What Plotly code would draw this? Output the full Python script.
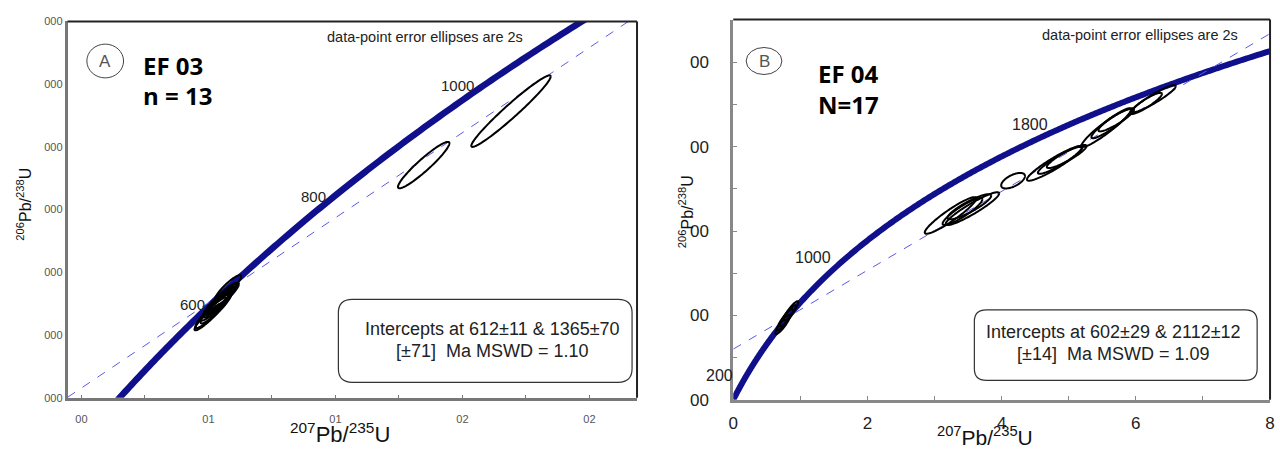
import numpy as np
import plotly.graph_objects as go

W, H = 1280, 457

# ---------------- data ----------------
LAMBDA_238 = 1.55125e-10
LAMBDA_235 = 9.8485e-10

# Panel A (EF 03) error ellipses: centre 207Pb/235U, 206Pb/238U, 2s half-extents, rho
A_ELL_X = [0.784, 0.793, 0.803, 0.809, 0.815, 0.821, 0.828, 0.834, 0.799, 0.824, 0.846, 1.462, 1.737]
A_ELL_Y = [0.0922, 0.0935, 0.0947, 0.0956, 0.0966, 0.0975, 0.0984, 0.0990, 0.0941, 0.0978, 0.1015, 0.1406, 0.1578]
A_ELL_SX = [0.044, 0.050, 0.044, 0.050, 0.047, 0.047, 0.044, 0.041, 0.056, 0.056, 0.041, 0.081, 0.125]
A_ELL_SY = [0.0043, 0.0049, 0.0046, 0.0046, 0.0046, 0.0043, 0.0043, 0.0040, 0.0055, 0.0052, 0.0040, 0.0074, 0.0114]
A_ELL_RHO = [0.93, 0.93, 0.92, 0.93, 0.93, 0.92, 0.93, 0.92, 0.93, 0.93, 0.9, 0.94, 0.97]

# Panel B (EF 04) error ellipses
B_ELL_X = [0.769, 0.739, 0.813, 0.858, 3.238, 3.564, 3.416, 3.519, 4.170, 4.791, 4.865, 4.969, 5.560, 5.634, 5.708, 6.270, 6.152]
B_ELL_Y = [0.0950, 0.0893, 0.0996, 0.1053, 0.2186, 0.2266, 0.2232, 0.2289, 0.2598, 0.2804, 0.2839, 0.2885, 0.3228, 0.3274, 0.3320, 0.3571, 0.3514]
B_ELL_SX = [0.118, 0.110, 0.118, 0.110, 0.384, 0.399, 0.296, 0.325, 0.177, 0.414, 0.325, 0.296, 0.370, 0.296, 0.266, 0.325, 0.237]
B_ELL_SY = [0.0126, 0.0115, 0.0126, 0.0115, 0.0217, 0.0195, 0.0160, 0.0149, 0.0092, 0.0206, 0.0160, 0.0137, 0.0229, 0.0172, 0.0137, 0.0160, 0.0126]
B_ELL_RHO = [0.9, 0.9, 0.9, 0.9, 0.93, 0.93, 0.9, 0.88, 0.6, 0.93, 0.92, 0.9, 0.94, 0.92, 0.9, 0.93, 0.9]

A_INTERCEPTS = [612, 1365]   # Ma
B_INTERCEPTS = [602, 2112]   # Ma
A_AGE_LABELS = [600, 800, 1000]
B_AGE_LABELS = [200, 1000, 1800]

A_XTICK_VALS = [0.384, 0.784, 1.184, 1.584, 1.984]
A_XTICK_TEXT = ["00", "01", "01", "02", "02"]
A_XMINOR_VALS = [0.584, 0.984, 1.384, 1.784]
A_YTICK_VALS = [0.0664, 0.0864, 0.1064, 0.1264, 0.1464, 0.1664, 0.1864]
A_YTICK_TEXT = ["000", "000", "000", "000", "000", "000", "000"]
B_XTICK_VALS = [0, 2, 4, 6, 8]
B_XTICK_TEXT = ["0", "2", "4", "6", "8"]
B_XMINOR_VALS = [1, 3, 5, 7]
B_YTICK_VALS = [0, 0.1, 0.2, 0.3, 0.4]
B_YTICK_TEXT = ["00", "00", "00", "00", "00"]
B_YMINOR_VALS = [0.05, 0.15, 0.25, 0.35]

A_XRANGE = [0.340, 2.134]
A_YRANGE = [0.0664, 0.1864]
B_XRANGE = [0, 8]
B_YRANGE = [0, 0.451]

A_TITLE = ["EF 03", "n = 13"]
B_TITLE = ["EF 04", "N=17"]
A_BOX = ["Intercepts at 612±11 & 1365±70", "[±71]  Ma MSWD = 1.10"]
B_BOX = ["Intercepts at 602±29 & 2112±12", "[±14]  Ma MSWD = 1.09"]
NOTE = "data-point error ellipses are 2s"

# ---------------- helpers ----------------
def px(x):
    return x / W

def py(y):
    return 1 - y / H

def concordia(age_ma):
    t = np.asarray(age_ma, dtype=float) * 1e6
    return np.exp(LAMBDA_235 * t) - 1, np.exp(LAMBDA_238 * t) - 1

def ellipses(cx, cy, sx, sy, rho):
    xs, ys = [], []
    t = np.linspace(0, 2 * np.pi, 120)
    for x0, y0, a, b, r in zip(cx, cy, sx, sy, rho):
        xs += list(x0 + a * np.cos(t)) + [None]
        ys += list(y0 + b * (r * np.cos(t) + np.sqrt(1 - r * r) * np.sin(t))) + [None]
    return xs, ys

def discordia(intercepts, xrange_):
    (x1, x2), (y1, y2) = concordia(intercepts)
    slope = (y2 - y1) / (x2 - x1)
    xs = np.array([xrange_[0], xrange_[1]])
    return xs, y1 + slope * (xs - x1)

def rounded_box(x0, y0, x1, y1, r):
    pts = [("M", x0 + r, y0), ("L", x1 - r, y0), ("Q", x1, y0, x1, y0 + r),
           ("L", x1, y1 - r), ("Q", x1, y1, x1 - r, y1), ("L", x0 + r, y1),
           ("Q", x0, y1, x0, y1 - r), ("L", x0, y0 + r), ("Q", x0, y0, x0 + r, y0)]
    s = ""
    for p in pts:
        cmd, vals = p[0], p[1:]
        coords = []
        for i in range(0, len(vals), 2):
            coords.append(f"{px(vals[i]):.5f},{py(vals[i + 1]):.5f}")
        s += cmd + " " + " ".join(coords) + " "
    return s + "Z"

NAVY = "#10108c"
DASH = "#5a5ae6"
AX_FONT = "Liberation Sans, Arial"

fig = go.Figure()

ages = np.arange(0, 4600, 5)
cx, cy = concordia(ages)

# ---------------- Panel A ----------------
fig.add_trace(go.Scatter(x=cx, y=cy, mode="lines", line=dict(color=NAVY, width=6.5, simplify=False),
                         xaxis="x", yaxis="y", hoverinfo="skip"))
dx, dy = discordia(A_INTERCEPTS, A_XRANGE)
fig.add_trace(go.Scatter(x=dx, y=dy, mode="lines", line=dict(color=DASH, width=1, dash="dash"),
                         xaxis="x", yaxis="y", hoverinfo="skip"))
ex, ey = ellipses(A_ELL_X, A_ELL_Y, A_ELL_SX, A_ELL_SY, A_ELL_RHO)
fig.add_trace(go.Scatter(x=ex, y=ey, mode="lines", line=dict(color="black", width=2, simplify=False),
                         xaxis="x", yaxis="y", hoverinfo="skip"))

# ---------------- Panel B ----------------
fig.add_trace(go.Scatter(x=cx, y=cy, mode="lines", line=dict(color=NAVY, width=6, simplify=False),
                         xaxis="x2", yaxis="y2", hoverinfo="skip"))
dx, dy = discordia(B_INTERCEPTS, B_XRANGE)
fig.add_trace(go.Scatter(x=dx, y=dy, mode="lines", line=dict(color=DASH, width=1, dash="dash"),
                         xaxis="x2", yaxis="y2", hoverinfo="skip"))
ex, ey = ellipses(B_ELL_X, B_ELL_Y, B_ELL_SX, B_ELL_SY, B_ELL_RHO)
fig.add_trace(go.Scatter(x=ex, y=ey, mode="lines", line=dict(color="black", width=2, simplify=False),
                         xaxis="x2", yaxis="y2", hoverinfo="skip"))

annotations = []
shapes = []

# age labels on concordia
for age, xs, ys in zip(A_AGE_LABELS, [-8, -12, -16], [-4, -5, -6]):
    ax_, ay_ = concordia([age])
    annotations.append(dict(x=float(ax_[0]), y=float(ay_[0]), xref="x", yref="y", text=str(age),
                            showarrow=False, xanchor="right", yanchor="middle", xshift=xs, yshift=ys,
                            font=dict(family=AX_FONT, size=15, color="#222")))
for age, xs, ys in zip(B_AGE_LABELS, [-13, -13, -11], [-2, 1, 4]):
    ax_, ay_ = concordia([age])
    annotations.append(dict(x=float(ax_[0]), y=float(ay_[0]), xref="x2", yref="y2", text=str(age),
                            showarrow=False, xanchor="right", yanchor="middle", xshift=xs, yshift=ys,
                            font=dict(family=AX_FONT, size=16, color="#222")))

# panel letters in circles
for (ccx, ccy, rx, ry, letter) in [(101, 57, 18.5, 17.5, "A"), (765, 57, 18, 14, "B")]:
    shapes.append(dict(type="circle", xref="paper", yref="paper",
                       x0=px(ccx - rx), x1=px(ccx + rx), y0=py(ccy + ry), y1=py(ccy - ry),
                       line=dict(color="#444", width=1)))
    annotations.append(dict(x=px(ccx), y=py(ccy), xref="paper", yref="paper", text=letter,
                            showarrow=False, xanchor="center", yanchor="middle",
                            font=dict(family=AX_FONT, size=17, color="#555")))

# sample titles
for (x0, ys, lines) in [(137, [62, 93], A_TITLE), (817, [70, 102], B_TITLE)]:
    for yy, txt in zip(ys, lines):
        annotations.append(dict(x=px(x0), y=py(yy), xref="paper", yref="paper", text=f"<b>{txt}</b>",
                                showarrow=False, xanchor="left", yanchor="middle",
                                font=dict(family="Open Sans", size=24, color="black")))

# notes
for (x0, yy) in [(323, 32), (1043, 30)]:
    annotations.append(dict(x=px(x0), y=py(yy), xref="paper", yref="paper", text=NOTE,
                            showarrow=False, xanchor="left", yanchor="middle",
                            font=dict(family=AX_FONT, size=14.5, color="#222")))

# intercept boxes
for (bx0, by0, bx1, by1, r, tx, t1, t2, lines) in [
        (336, 304, 632, 390, 14, 491, 335, 357, A_BOX),
        (977, 315, 1262, 388, 12, 1117, 338, 361, B_BOX)]:
    shapes.append(dict(type="path", xref="paper", yref="paper", path=rounded_box(bx0, by0, bx1, by1, r),
                       line=dict(color="#333", width=1.2)))
    for yy, txt in zip([t1, t2], lines):
        annotations.append(dict(x=px(tx), y=py(yy), xref="paper", yref="paper", text=txt,
                                showarrow=False, xanchor="center", yanchor="middle",
                                font=dict(family=AX_FONT, size=18, color="#222")))

# axis titles
annotations += [
    dict(x=px(338), y=py(443), xref="paper", yref="paper", text="<sup>207</sup>Pb/<sup>235</sup>U",
         showarrow=False, xanchor="center", yanchor="middle", font=dict(family=AX_FONT, size=22, color="#111")),
    dict(x=px(988), y=py(446), xref="paper", yref="paper", text="<sup>207</sup>Pb/<sup>235</sup>U",
         showarrow=False, xanchor="center", yanchor="middle", font=dict(family=AX_FONT, size=21, color="#111")),
    dict(x=px(19), y=py(205), xref="paper", yref="paper", text="<sup>206</sup>Pb/<sup>238</sup>U",
         showarrow=False, xanchor="center", yanchor="middle", textangle=-90,
         font=dict(family=AX_FONT, size=16, color="#111")),
    dict(x=px(686), y=py(213), xref="paper", yref="paper", text="<sup>206</sup>Pb/<sup>238</sup>U",
         showarrow=False, xanchor="center", yanchor="middle", textangle=-90,
         font=dict(family=AX_FONT, size=16, color="#111")),
]

# top / right frame lines
for (x0, y0, x1, y1) in [(63, 16, 637, 16), (637, 16, 637, 406), (734, 14, 1275, 14), (1275, 14, 1275, 408)]:
    shapes.append(dict(type="line", xref="paper", yref="paper", x0=px(x0), y0=py(y0), x1=px(x1), y1=py(y1),
                       line=dict(color="#222", width=2)))

fig.update_layout(
    width=W, height=H, margin=dict(l=0, r=0, t=0, b=0),
    paper_bgcolor="white", plot_bgcolor="white", showlegend=False,
    xaxis=dict(domain=[px(63), px(637)], range=A_XRANGE, anchor="y", showgrid=False, zeroline=False,
               showline=True, linecolor="#777", linewidth=2.5, ticks="inside", ticklen=3, tickcolor="#777",
               tickvals=A_XTICK_VALS, ticktext=A_XTICK_TEXT, ticklabelstandoff=9,
               minor=dict(tickvals=A_XMINOR_VALS, ticks="inside", ticklen=3, tickcolor="#777"),
               tickfont=dict(family=AX_FONT, size=11, color="#555")),
    yaxis=dict(domain=[py(406), py(16)], range=A_YRANGE, anchor="x", showgrid=False, zeroline=False,
               showline=True, linecolor="#777", linewidth=2.5, ticks="",
               tickvals=A_YTICK_VALS, ticktext=A_YTICK_TEXT,
               tickfont=dict(family=AX_FONT, size=11, color="#555")),
    xaxis2=dict(domain=[px(734), px(1275)], range=B_XRANGE, anchor="y2", showgrid=False, zeroline=False,
                showline=True, linecolor="#888", linewidth=3, ticks="inside", ticklen=4, tickcolor="#888",
                tickvals=B_XTICK_VALS, ticktext=B_XTICK_TEXT, ticklabelstandoff=6,
                minor=dict(tickvals=B_XMINOR_VALS, ticks="inside", ticklen=4, tickcolor="#888"),
                tickfont=dict(family=AX_FONT, size=17, color="#222")),
    yaxis2=dict(domain=[py(408), py(14)], range=B_YRANGE, anchor="x2", showgrid=False, zeroline=False,
                showline=True, linecolor="#888", linewidth=3, ticks="inside", ticklen=4, tickcolor="#888",
                tickvals=B_YTICK_VALS, ticktext=B_YTICK_TEXT, ticklabelstandoff=18,
                minor=dict(tickvals=B_YMINOR_VALS, ticks="inside", ticklen=4, tickcolor="#888"),
                tickfont=dict(family=AX_FONT, size=17, color="#222")),
    annotations=annotations, shapes=shapes,
)

fig.write_html("out.html", config={"displayModeBar": False},
               post_script="document.body.style.margin='0';document.body.style.overflow='hidden';")
